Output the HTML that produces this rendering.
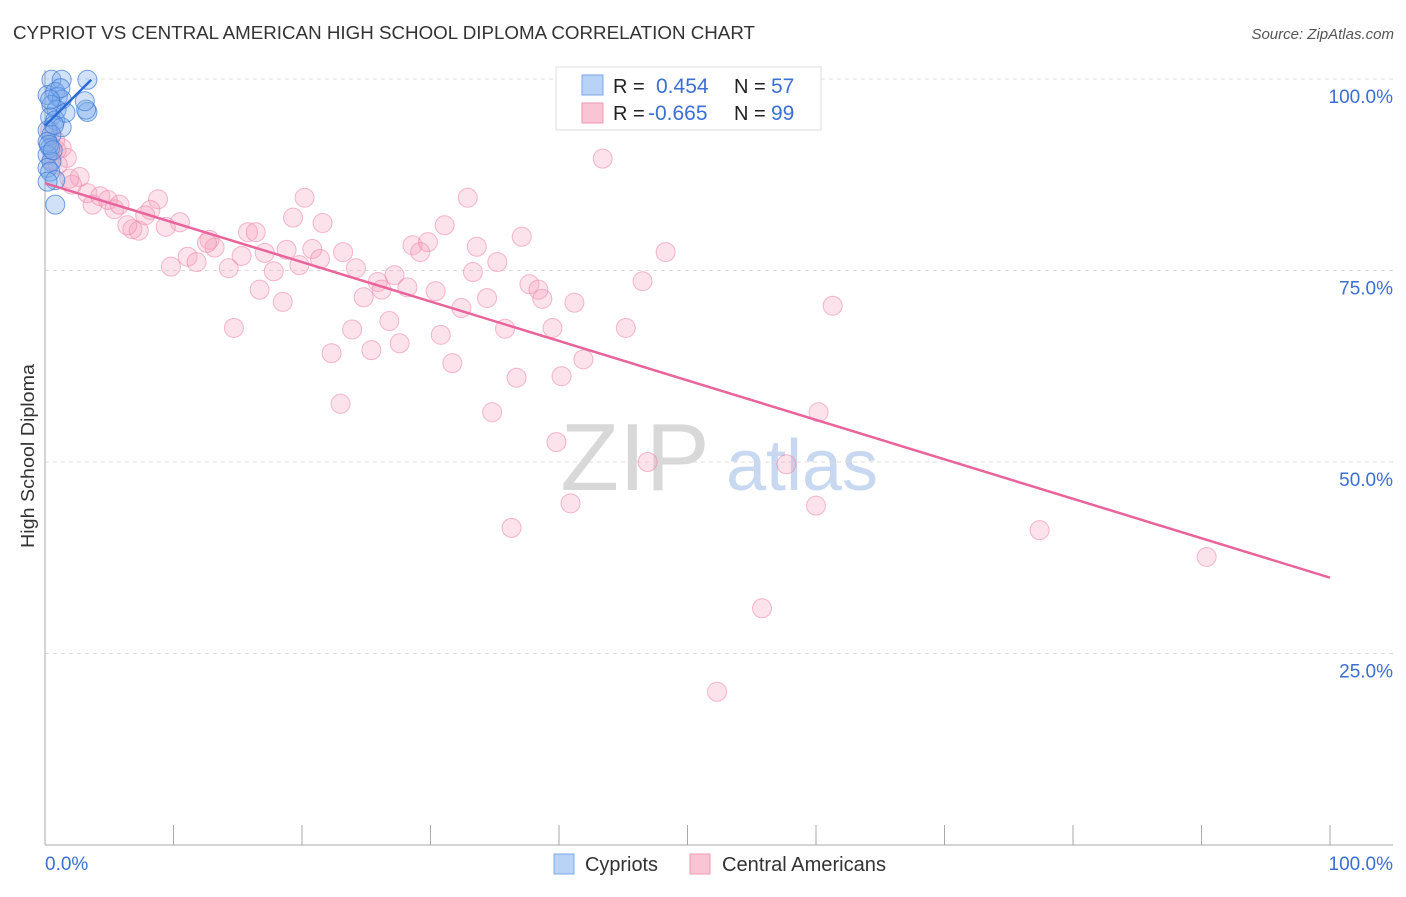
<!DOCTYPE html>
<html><head><meta charset="utf-8"><style>
body{margin:0;background:#fff;font-family:"Liberation Sans",sans-serif;}
svg text{font-family:"Liberation Sans",sans-serif;}
</style></head><body>
<svg id="chart" width="1406" height="892" xmlns="http://www.w3.org/2000/svg">
<text x="13" y="39" font-size="18" fill="#333" textLength="742" lengthAdjust="spacingAndGlyphs">CYPRIOT VS CENTRAL AMERICAN HIGH SCHOOL DIPLOMA CORRELATION CHART</text>
<text x="1394" y="39" font-size="15" fill="#555" text-anchor="end" font-style="italic">Source: ZipAtlas.com</text>
<text transform="translate(34,456) rotate(-90)" font-size="18.5" fill="#333" text-anchor="middle" textLength="184" lengthAdjust="spacingAndGlyphs">High School Diploma</text>
<g>
<text x="635" y="490" font-size="96" fill="#d8d8d8" text-anchor="middle" font-family="Liberation Serif">ZIP</text>
<text x="802" y="490" font-size="72" fill="#c7d8f0" text-anchor="middle">atlas</text>
</g>
<g id="grid"></g>
<g id="axes"></g>
<g id="pts"></g>
<g id="lines"></g>
<g>
<rect x="556" y="67" width="265" height="63" fill="#fff" stroke="#ddd"/>
<rect x="582" y="75" width="21" height="20" fill="#b8d3f5" stroke="#7aa8e8"/>
<rect x="582" y="103" width="21" height="20" fill="#f9c4d3" stroke="#ee9ab3"/>
<text x="613" y="93" font-size="20" fill="#222">R =</text>
<text x="656" y="93" font-size="21" fill="#3b6fd4">0.454</text>
<text x="734" y="93" font-size="20" fill="#222">N =</text>
<text x="771" y="93" font-size="21" fill="#3b6fd4">57</text>
<text x="613" y="120" font-size="20" fill="#222">R =</text>
<text x="648" y="120" font-size="21" fill="#3b6fd4">-0.665</text>
<text x="734" y="120" font-size="20" fill="#222">N =</text>
<text x="771" y="120" font-size="21" fill="#3b6fd4">99</text>
</g>
<g>
<rect x="554" y="854" width="20" height="20" fill="#b8d3f5" stroke="#7aa8e8"/>
<text x="585" y="871" font-size="20" fill="#333" textLength="73" lengthAdjust="spacingAndGlyphs">Cypriots</text>
<rect x="690" y="854" width="20" height="20" fill="#f9c4d3" stroke="#ee9ab3"/>
<text x="722" y="871" font-size="20" fill="#333" textLength="164" lengthAdjust="spacingAndGlyphs">Central Americans</text>
</g>
</svg>
<script>
const yTicks=[100,75,50,25];
const yTickLabels=["100.0%","75.0%","50.0%","25.0%"];
const xTickLabels=["0.0%","100.0%"];
const pinkX=[43.4,49.4,32.9,20.2,8.8,19.3,21.6,31.1,10.5,9.4,6.8,7.3,6.4,15.8,16.4,12.8,13.2,12.6,18.8,20.8,23.2,28.6,29.8,29.2,33.6,37.1,48.3,11.1,11.8,14.3,15.3,17.1,19.8,21.4,24.2,25.9,27.2,26.2,28.2,30.4,33.3,35.2,37.7,38.4,38.7,41.2,46.5,61.3,9.8,17.8,16.7,18.5,24.8,32.4,34.4,14.7,23.9,26.8,30.8,35.8,39.5,45.2,27.6,25.4,22.3,31.7,41.9,36.7,40.2,23.0,34.8,60.2,39.8,46.9,57.7,40.9,60.0,36.3,77.4,90.4,55.8,52.3,0.8,1.3,0.5,1.7,1.0,2.7,2.1,3.3,4.3,4.9,3.7,5.4,5.8,8.2,7.8,0.4,0.9,1.9];
const pinkY=[89.6,99.9,84.5,84.5,84.3,81.9,81.2,80.9,81.3,80.7,80.4,80.2,80.9,80.0,80.0,79.0,78.0,78.6,77.7,77.8,77.4,78.3,78.7,77.4,78.1,79.4,77.4,76.8,76.1,75.3,76.9,77.3,75.7,76.5,75.3,73.5,74.4,72.5,72.8,72.3,74.8,76.1,73.2,72.5,71.3,70.8,73.6,70.4,75.5,74.9,72.5,70.9,71.5,70.1,71.4,67.5,67.3,68.4,66.6,67.4,67.5,67.5,65.5,64.6,64.2,62.9,63.4,61.0,61.2,57.6,56.5,56.5,52.6,50.0,49.7,44.6,44.3,41.4,41.1,37.6,30.9,20.0,92.0,91.0,89.4,89.7,88.8,87.2,86.2,85.1,84.7,84.2,83.6,83.0,83.6,82.9,82.2,93.3,90.7,87.0];
const blueX=[0.5,1.3,3.3,0.2,0.8,1.0,1.3,0.5,0.9,0.4,0.8,1.3,3.3,3.2,3.1,0.2,0.5,0.2,0.4,0.2,0.5,0.2,0.4,0.8,0.2,0.8,1.2,1.6,0.4,0.7,0.3,0.6];
const blueY=[99.9,99.9,99.9,97.9,98.3,97.7,97.3,96.6,96.0,95.0,94.6,93.7,95.7,96.0,97.1,93.3,92.7,91.8,91.0,90.1,89.2,88.4,87.9,86.8,86.6,83.6,98.8,95.6,97.3,94.0,91.4,90.7];
const pinkTrend=[[0,86.4],[100,34.9]];
const blueTrend=[[0,93.9],[3.6,99.9]];
const NS="http://www.w3.org/2000/svg";
const sx=v=>45+v*12.85, sy=v=>845-v*7.66;
function mk(tag,attrs,parent){const e=document.createElementNS(NS,tag);for(const k in attrs)e.setAttribute(k,attrs[k]);document.getElementById(parent).appendChild(e);return e;}
yTicks.forEach((t,i)=>{
 const l=mk('line',{x1:45,x2:1393,y1:sy(t),y2:sy(t),stroke:'#ddd','stroke-dasharray':'4,4'},'grid');
 
 
 const tx=mk('text',{x:1393,y:sy(t)+24,'font-size':19,fill:'#3b6fd4','text-anchor':'end'},'grid');
 tx.textContent=yTickLabels[i];
 
 
});
let a=mk('line',{x1:45,x2:45,y1:70,y2:845,stroke:'#aaa'},'axes');


a=mk('line',{x1:45,x2:1393,y1:845,y2:845,stroke:'#aaa'},'axes');


for(let i=1;i<=10;i++){const t=mk('line',{x1:sx(i*10),x2:sx(i*10),y1:825,y2:845,stroke:'#aaa'},'axes');
 
 }
[[0,'start',45],[100,'end',1393]].forEach((d,i)=>{const t=mk('text',{x:d[2],y:870,'font-size':19,fill:'#3b6fd4','text-anchor':d[1]},'axes');t.textContent=xTickLabels[i];
 
 });
pinkX.forEach((x,i)=>{const c=mk('circle',{cx:sx(x),cy:sy(pinkY[i]),r:9.5,fill:'rgba(246,160,188,0.3)',stroke:'rgba(236,130,165,0.55)','stroke-width':1},'pts');
 
 });
blueX.forEach((x,i)=>{const c=mk('circle',{cx:sx(x),cy:sy(blueY[i]),r:9.5,fill:'rgba(120,170,235,0.35)',stroke:'rgba(60,120,215,0.7)','stroke-width':1},'pts');
 
 });
let t=mk('line',{x1:sx(pinkTrend[0][0]),y1:sy(pinkTrend[0][1]),x2:sx(pinkTrend[1][0]),y2:sy(pinkTrend[1][1]),stroke:'#e8649a','stroke-width':2.5},'lines');


t=mk('line',{x1:sx(blueTrend[0][0]),y1:sy(blueTrend[0][1]),x2:sx(blueTrend[1][0]),y2:sy(blueTrend[1][1]),stroke:'#2a6ad4','stroke-width':2.5},'lines');


</script>
</body></html>
